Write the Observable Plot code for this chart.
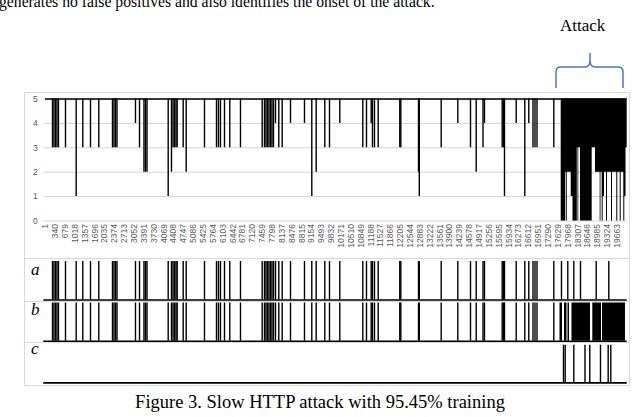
<!DOCTYPE html>
<html>
<head>
<meta charset="utf-8">
<script src="https://cdn.jsdelivr.net/npm/d3@7"></script>
<script src="https://cdn.jsdelivr.net/npm/@observablehq/plot@0.6"></script>
<style>
  html, body { margin: 0; padding: 0; background: #fff; }
  #root { position: relative; width: 640px; height: 417px; overflow: hidden; background: #fff; }
  .abs { position: absolute; }
  .serif { font-family: "Liberation Serif", "DejaVu Serif", serif; color: #000; white-space: nowrap; }
  svg { overflow: visible; }
</style>
</head>
<body>
<div id="root"></div>
<script>
// ---------- data ----------
const xTickLabels = [1, 340, 679, 1018, 1357, 1696, 2035, 2374, 2713, 3052, 3391, 3730, 4069, 4408, 4747, 5086,
  5425, 5764, 6103, 6442, 6781, 7120, 7459, 7798, 8137, 8476, 8815, 9154, 9493, 9832, 10171, 10510, 10849,
  11188, 11527, 11866, 12205, 12544, 12883, 13222, 13561, 13900, 14239, 14578, 14917, 15256, 15595, 15934,
  16273, 16612, 16951, 17290, 17629, 17968, 18307, 18646, 18985, 19324, 19663];
const yTicks = [0, 1, 2, 3, 4, 5];
const firstIndex = 1;
const lastIndex = 20005;
const normalValue = 5;

// dips of the score series before the attack (sample index, value)
const dipIndex = [242, 293, 345, 396, 448, 689, 1057, 1284, 1549, 1834, 2305, 2357, 2408, 2460, 3096, 3234,
  3388, 3440, 3492, 4221, 4334, 4386, 4437, 4489, 4530, 4737, 4840, 5469, 5882, 5950, 6019, 6157, 6339, 6707,
  7453, 7532, 7584, 7635, 7687, 7739, 7790, 7842, 7911, 8024, 8141, 8427, 8908, 9159, 9310, 9606, 9768,
  10122, 10913, 11040, 11202, 11246, 11315, 11443, 12185, 12220, 12829, 12856, 13609, 14180, 14617, 14813,
  15047, 15098, 15707, 15752, 15786, 16189, 16484, 16622, 16766, 16835, 16904, 17482];
const dipValue = [3, 3, 3, 3, 3, 3, 1, 3, 3, 3, 3, 3, 3, 3, 4, 3,
  2, 2, 2, 1, 2, 3, 3, 3, 3, 3, 2, 3, 3, 3, 3, 3, 3, 3,
  3, 3, 3, 3, 3, 3, 3, 3, 4, 3, 3, 4, 4, 1, 2, 3, 3,
  4, 3, 3, 4, 3, 3, 3, 3, 3, 2, 1, 3, 4, 3, 2,
  3, 4, 3, 3, 1, 4, 1, 4, 3, 3, 3, 3];

// attack period: lowest value reached, from each sample index onward
const attackIndex = [17736, 17894, 17918, 17945, 18080, 18142, 18290, 18314, 18341, 18400, 18802, 18915, 19077,
  19104, 19146, 19180, 19225, 19294, 19328, 19466, 19500, 19648, 19683, 19765, 19800, 19889, 19923, 19965, 20005];
const attackLow = [0, 2, 0, 2, 1, 0, 3, 0, 3, 0, 3, 2, 0,
  2, 0, 1, 2, 0, 2, 0, 2, 0, 2, 0, 2, 0, 1, 3, 3];

// row a: alarms during the attack (in addition to the dips)
const rowAAttack = [17746, 17963, 18170, 18400, 18940, 19373];
// row b: alarm spans during the attack
const rowBStart = [17695, 17850, 17970, 18107, 18823, 19156];
const rowBEnd = [17781, 17935, 18021, 18744, 19122, 19947];
// row c: alarms
const rowC = [17815, 17873, 18170, 18555, 18720, 19087, 19352, 19442];

// ---------- build ----------
const dips = dipIndex.map((i, k) => ({i, v: dipValue[k]}));
const attack = attackIndex.map((i, k) => ({i, v: attackLow[k]}));
const rowA = dipIndex.concat(rowAAttack);
const rowBSpans = rowBStart.map((s, k) => ({s, e: rowBEnd[k]}));

const W = 640;
const xDomain = [-57, 20006];
const mL = 43.3, mR = 13.3;
const root = document.getElementById("root");

function place(el, left, topPx) {
  el.classList.add("abs");
  el.style.left = left + "px";
  el.style.top = topPx + "px";
  root.appendChild(el);
  return el;
}
function text(str, left, topPx, css) {
  const d = document.createElement("div");
  d.className = "serif";
  d.textContent = str;
  Object.assign(d.style, css || {});
  return place(d, left, topPx);
}

// frame
const frame = document.createElement("div");
Object.assign(frame.style, {width: "606px", height: "294px", border: "1px solid #d9d9d9", boxSizing: "border-box"});
place(frame, 24, 92);
for (const y of [258, 301, 342]) {
  const s = document.createElement("div");
  Object.assign(s.style, {width: "606px", height: "0", borderTop: "1px solid #d9d9d9"});
  place(s, 24, y);
}

// top chart
const mainChart = Plot.plot({
  width: W, height: 170,
  marginLeft: mL, marginRight: mR, marginTop: 10.5, marginBottom: 37.5,
  style: {background: "transparent", fontFamily: "'Liberation Sans', 'DejaVu Sans', sans-serif", fontSize: "8.5px", color: "#595959"},
  x: {domain: xDomain},
  y: {domain: [0, 5]},
  marks: [
    Plot.ruleY(yTicks, {stroke: "#d4d4d4", strokeWidth: 1}),
    Plot.axisY({ticks: yTicks, tickSize: 0, tickPadding: 6, tickFormat: d => `${d}`, label: null, fill: "#595959"}),
    Plot.axisX({ticks: xTickLabels, tickSize: 0, tickPadding: 3, tickRotate: -90, tickFormat: d => `${d}`, label: null, fill: "#595959"}),
    Plot.ruleY([normalValue], {x1: firstIndex, x2: lastIndex, stroke: "#000", strokeWidth: 1.6}),
    Plot.ruleX(dips, {x: "i", y1: normalValue, y2: "v", stroke: "#000", strokeWidth: 1.4}),
    Plot.areaY(attack, {x: "i", y1: normalValue, y2: "v", curve: "step-after", fill: "#000"})
  ]
});
place(mainChart, 0, 88);

function row(h, yTop, yBot, marks) {
  return Plot.plot({
    width: W, height: h,
    marginLeft: mL, marginRight: mR, marginTop: yTop, marginBottom: h - yBot,
    style: {background: "transparent"},
    x: {domain: xDomain, axis: null},
    y: {domain: [0, 1], axis: null},
    marks: [
      ...marks,
      Plot.ruleY([0], {stroke: "#000", strokeWidth: 1.6})
    ]
  });
}
place(row(43, 3, 41.5, [Plot.ruleX(rowA, {y1: 0, y2: 1, stroke: "#000", strokeWidth: 1.4})]), 0, 258);
place(row(42, 1.5, 39.7, [
  Plot.ruleX(dipIndex, {y1: 0, y2: 1, stroke: "#000", strokeWidth: 1.4}),
  Plot.rectX(rowBSpans, {x1: "s", x2: "e", y1: 0, y2: 1, fill: "#000"})
]), 0, 301);
place(row(43, 2.7, 40.4, [Plot.ruleX(rowC, {y1: 0, y2: 1, stroke: "#000", strokeWidth: 1.4})]), 0, 342.3);

// labels
text("a", 31, 260, {fontStyle: "italic", fontSize: "17px"});
text("b", 31, 300, {fontStyle: "italic", fontSize: "17px"});
text("c", 31, 339, {fontStyle: "italic", fontSize: "17px"});

text("generates no false positives and also identifies the onset of the attack.", -1, -7, {fontSize: "15.7px"});
text("Attack", 560, 16, {fontSize: "17px"});
text("Figure 3. Slow HTTP attack with 95.45% training", 0, 392, {fontSize: "18.5px", width: "640px", textAlign: "center"});

// brace over the attack period
const ns = "http://www.w3.org/2000/svg";
const br = document.createElementNS(ns, "svg");
br.setAttribute("width", "100");
br.setAttribute("height", "45");
const p = document.createElementNS(ns, "path");
p.setAttribute("d", "M556,88 L556,72 Q556,67 561,67 L585,67 Q590,67 590,60 L590,53 M590,60 Q590,67 595,67 L618,67 Q623,67 623,72 L623,88");
p.setAttribute("fill", "none");
p.setAttribute("stroke", "#4a78c2");
p.setAttribute("stroke-width", "1.5");
p.setAttribute("transform", "translate(-545,-48)");
br.appendChild(p);
place(br, 545, 48);
</script>
</body>
</html>
